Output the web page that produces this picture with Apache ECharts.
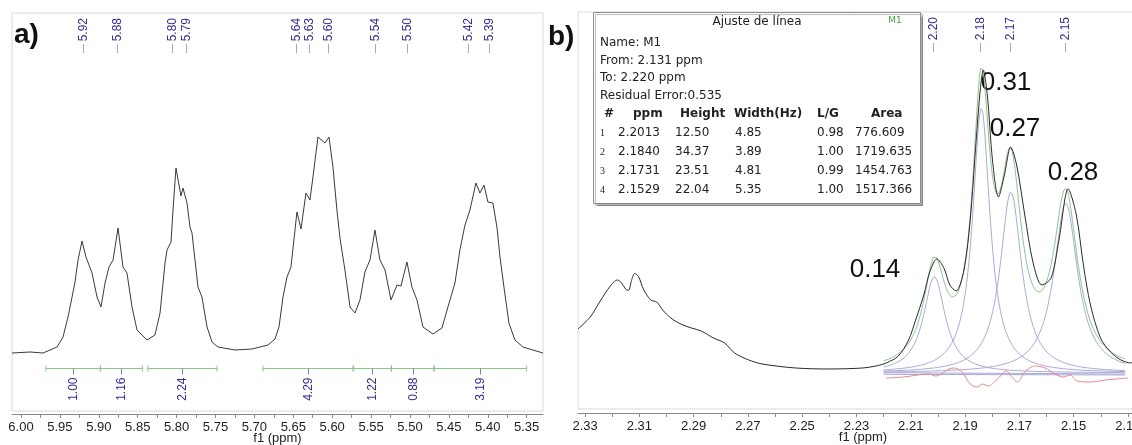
<!DOCTYPE html>
<html>
<head>
<meta charset="utf-8">
<script src="https://cdn.jsdelivr.net/npm/echarts@6/dist/echarts.min.js"></script>
<style>
  html, body { margin: 0; padding: 0; background: #fff; }
  #main { width: 1132px; height: 445px; }
</style>
</head>
<body>
<div id="main"></div>
<script>
// ---- panel a) : 1H spectrum, 5.33 - 6.01 ppm ----
var aPpm = [6.0116, 5.9884, 5.9717, 5.9537, 5.9460, 5.9396, 5.9344, 5.9306, 5.9267, 5.9216,
  5.9165, 5.9087, 5.9023, 5.8972, 5.8920, 5.8869, 5.8817, 5.8753, 5.8689, 5.8638,
  5.8573, 5.8509, 5.8381, 5.8278, 5.8213, 5.8149, 5.8123, 5.8072, 5.8046, 5.8008,
  5.7944, 5.7918, 5.7866, 5.7828, 5.7802, 5.7725, 5.7674, 5.7609, 5.7545, 5.7468,
  5.7249, 5.7031, 5.6825, 5.6735, 5.6684, 5.6632, 5.6581, 5.6530, 5.6453, 5.6401,
  5.6337, 5.6286, 5.6247, 5.6183, 5.6093, 5.6041, 5.5990, 5.5939, 5.5900, 5.5836,
  5.5771, 5.5707, 5.5643, 5.5579, 5.5514, 5.5450, 5.5386, 5.5321, 5.5244, 5.5167,
  5.5116, 5.5039, 5.4975, 5.4910, 5.4833, 5.4705, 5.4589, 5.4512, 5.4422, 5.4358,
  5.4293, 5.4229, 5.4152, 5.4101, 5.4049, 5.3998, 5.3934, 5.3882, 5.3843, 5.3792,
  5.3728, 5.3651, 5.3548, 5.3291];
var aInt = [-1, 0, -1, 5, 15, 35, 55, 70, 92, 111,
  95, 79, 55, 45, 69, 85, 92, 124, 85, 79,
  45, 22, 12, 17, 39, 89, 102, 110, 142, 184,
  156, 164, 149, 125, 119, 65, 55, 25, 10, 5,
  2, 3, 7, 13, 25, 55, 75, 85, 140, 123,
  159, 152, 175, 215, 209, 215, 185, 142, 114, 82,
  45, 39, 52, 80, 92, 122, 92, 82, 52, 67,
  66, 90, 65, 52, 25, 18, 24, 45, 69, 102,
  127, 142, 169, 159, 167, 150, 149, 125, 95, 65,
  29, 12, 5, -1];

var aPeakPpm = [5.920, 5.877, 5.806, 5.788, 5.647, 5.630, 5.605, 5.545, 5.504, 5.425, 5.398];
var aPeakLabels = ['5.92', '5.88', '5.80', '5.79', '5.64', '5.63', '5.60', '5.54', '5.50', '5.42', '5.39'];

var aIntFrom = [5.968, 5.898, 5.837, 5.689, 5.573, 5.524, 5.469];
var aIntTo = [5.898, 5.844, 5.748, 5.573, 5.524, 5.469, 5.350];
var aIntLabels = ['1.00', '1.16', '2.24', '4.29', '1.22', '0.88', '3.19'];

var aTickLabels = [6.00, 5.95, 5.90, 5.85, 5.80, 5.75, 5.70, 5.65, 5.60, 5.55, 5.50, 5.45, 5.40, 5.35];
var aTicks = [6.00, 5.975, 5.95, 5.925, 5.90, 5.875, 5.85, 5.825, 5.80, 5.775, 5.75, 5.725, 5.70,
  5.675, 5.65, 5.625, 5.60, 5.575, 5.55, 5.525, 5.50, 5.475, 5.45, 5.425, 5.40, 5.375, 5.35];

// ---- panel b) : 2.13 - 2.33 ppm with line fitting ----
var bPpm = [2.3326, 2.3281, 2.3244, 2.3207, 2.3181, 2.3166, 2.3151, 2.3140, 2.3129, 2.3117,
  2.3103, 2.3084, 2.3058, 2.3036, 2.3014, 2.2984, 2.2947, 2.2909, 2.2872, 2.2827, 2.2786,
  2.2749, 2.2697, 2.2648, 2.2525, 2.2399, 2.2276, 2.2228, 2.2190, 2.2146, 2.2108,
  2.2082, 2.2052, 2.2030, 2.2004, 2.1978, 2.1956, 2.1933, 2.1904, 2.1881, 2.1859,
  2.1844, 2.1833, 2.1818, 2.1799, 2.1777, 2.1755, 2.1732, 2.1710, 2.1680, 2.1650,
  2.1617, 2.1583, 2.1554, 2.1520, 2.1490, 2.1464, 2.1438, 2.1401, 2.1364, 2.1326,
  2.1289, 2.1278, 2.1263];
var bInt = [5.71, 7.26, 9.34, 11.28, 12.06, 11.70, 10.90, 10.70, 12.00, 12.90,
  12.50, 10.80, 9.47, 9.21, 8.17, 7.13, 6.35, 5.84, 5.45, 4.54, 3.89,
  2.59, 1.69, 1.17, 0.65, 0.52, 0.65, 0.91, 1.30, 2.20, 4.28,
  6.87, 10.12, 13.10, 14.79, 13.62, 11.41, 10.64, 13.36, 19.84, 30.22,
  36.71, 39.30, 36.06, 27.63, 22.83, 25.68, 29.31, 26.98, 20.49, 14.40,
  11.41, 12.32, 17.25, 23.87, 20.49, 14.01, 8.82, 4.54, 2.72, 1.69,
  1.30, 1.56, 1.17];

// fit table (Ajuste de línea, M1)
var fitNo = [1, 2, 3, 4];
var fitPpm = [2.2013, 2.1840, 2.1731, 2.1529];
var fitHeight = [12.50, 34.37, 23.51, 22.04];
var fitWidthHz = [4.85, 3.89, 4.81, 5.35];
var fitLG = [0.98, 1.00, 0.99, 1.00];
var fitArea = [776.609, 1719.635, 1454.763, 1517.366];
var fitFrom = 2.131, fitTo = 2.220, fitResidual = 0.535;
var specMHz = 500;

var resPpm = [2.2190, 2.2127, 2.2034, 2.2008, 2.1959, 2.1940, 2.1911, 2.1881, 2.1855, 2.1836,
  2.1814, 2.1784, 2.1747, 2.1728, 2.1706, 2.1680, 2.1643, 2.1606, 2.1568, 2.1539,
  2.1513, 2.1487, 2.1438, 2.1382, 2.1300];
var resInt = [-0.65, -0.52, -0.13, -0.39, 0.52, 0.65, 0.13, -1.43, -1.82, -1.43,
  -1.69, -0.91, 0.26, -0.52, -1.17, 0.13, 0.91, 0.65, -0.13, -0.52,
  -0.26, -1.04, -1.17, -0.91, -0.65];
var baseA = [0.04, -0.13];
var baseB = [-0.17, -0.26];

var bPeakPpm = [2.2019, 2.1845, 2.1733, 2.1530];
var bPeakLabels = ['2.20', '2.18', '2.17', '2.15'];
var bRelInt = ['0.14', '0.31', '0.27', '0.28'];

var bTickLabels = [2.33, 2.31, 2.29, 2.27, 2.25, 2.23, 2.21, 2.19, 2.17, 2.15, 2.13];
var bTicks = [2.33, 2.32, 2.31, 2.30, 2.29, 2.28, 2.27, 2.26, 2.25, 2.24, 2.23, 2.22, 2.21,
  2.20, 2.19, 2.18, 2.17, 2.16, 2.15, 2.14, 2.13];

var BLUE_TXT = '#2e3192';
var TICK_CLR = '#a3a6cf';
var AX_FONT = '"Liberation Sans", sans-serif';

function lorentz (k, x) {
  var hw = fitWidthHz[k] / specMHz / 2;
  var d = (x - fitPpm[k]) / hw;
  return fitHeight[k] / (1 + d * d);
}

// model curves on the fit window
var fitX = [];
for (var v = fitTo; v >= fitFrom - 1e-9; v -= 0.0002) fitX.push(+v.toFixed(4));
var compSeries = fitPpm.map(function (p, k) {
  return {
    type: 'line', xAxisIndex: 1, yAxisIndex: 1, showSymbol: false, silent: true,
    lineStyle: { color: '#a9a9d8', width: 1 },
    data: fitX.map(function (x) { return [x, lorentz(k, x)] })
  }
});
var sumData = fitX.map(function (x) {
  var s = 0
  for (var k = 0; k < fitPpm.length; k++) s += lorentz(k, x)
  return [x, s]
});

function axisX (grid, min, max, ticks, labels, offset) {
  return {
    gridIndex: grid,
    type: 'value',
    inverse: true,
    min: min,
    max: max,
    offset: offset,
    name: 'f1 (ppm)',
    nameLocation: 'middle',
    nameGap: 18,
    nameMoveOverlap: false,
    nameTextStyle: { color: '#222', fontSize: 13, fontFamily: AX_FONT, verticalAlign: 'top' },
    axisLine: { onZero: false, lineStyle: { color: '#8a8a8a' } },
    axisTick: { customValues: ticks, length: 4, lineStyle: { color: '#8a8a8a' } },
    axisLabel: {
      customValues: labels,
      color: '#222',
      fontSize: 13,
      fontFamily: AX_FONT,
      margin: 7,
      formatter: function (val) { return val.toFixed(2) }
    },
    splitLine: { show: false }
  }
}

function peakLabels (idx, ppms, labels) {
  return {
    type: 'custom', xAxisIndex: idx, yAxisIndex: idx, silent: true, clip: false, z: 5,
    data: ppms.map(function (p) { return [p, 0] }),
    renderItem: function (params, api) {
      var x = Math.round(api.coord([api.value(0), 0])[0]) + 0.5;
      var top = params.coordSys.y;
      return {
        type: 'group',
        children: [
          {
            type: 'text', x: x, y: top + 5, rotation: Math.PI / 2,
            style: { text: labels[params.dataIndex], fill: BLUE_TXT, font: '12px ' + AX_FONT, align: 'right', verticalAlign: 'middle' }
          },
          { type: 'line', shape: { x1: x, y1: top + 31, x2: x, y2: top + 40 }, style: { stroke: TICK_CLR, lineWidth: 1 } }
        ]
      }
    }
  }
}

var INT_LEVEL = -16;
var integrals = {
  type: 'custom', xAxisIndex: 0, yAxisIndex: 0, silent: true, clip: false,
  data: aIntFrom.map(function (f, i) { return [f, aIntTo[i]] }),
  renderItem: function (params, api) {
    var p1 = api.coord([api.value(0), INT_LEVEL]);
    var p2 = api.coord([api.value(1), INT_LEVEL]);
    var y = Math.round(p1[1]) + 0.5;
    var mx = Math.round((p1[0] + p2[0]) / 2) + 0.5;
    var g = '#86c986';
    return {
      type: 'group',
      children: [
        { type: 'line', shape: { x1: p1[0], y1: y, x2: p2[0], y2: y }, style: { stroke: g, lineWidth: 1 } },
        { type: 'line', shape: { x1: p1[0], y1: y - 3, x2: p1[0], y2: y + 3 }, style: { stroke: g, lineWidth: 1 } },
        { type: 'line', shape: { x1: p2[0], y1: y - 3, x2: p2[0], y2: y + 3 }, style: { stroke: g, lineWidth: 1 } },
        { type: 'line', shape: { x1: mx, y1: y, x2: mx, y2: y + 6 }, style: { stroke: '#7c80c0', lineWidth: 1 } },
        {
          type: 'text', x: mx, y: y + 9, rotation: Math.PI / 2,
          style: { text: aIntLabels[params.dataIndex], fill: BLUE_TXT, font: '12px ' + AX_FONT, align: 'right', verticalAlign: 'middle' }
        }
      ]
    }
  }
};

// table drawn as graphic text
var TF = '"DejaVu Sans", sans-serif';
var tableEls = [
  { type: 'rect', shape: { x: 593.5, y: 12.5, width: 327, height: 191 },
    style: { fill: '#fff', stroke: '#8c8c8c', lineWidth: 1, shadowColor: 'rgba(0,0,0,0.3)', shadowOffsetX: 2, shadowOffsetY: 2, shadowBlur: 1 } },
  { type: 'text', x: 757, y: 22, style: { text: 'Ajuste de línea', font: '12px ' + TF, fill: '#222', align: 'center', verticalAlign: 'middle' } },
  { type: 'text', x: 600, y: 43, style: { text: 'Name: M1', font: '12px ' + TF, fill: '#222', verticalAlign: 'middle' } },
  { type: 'text', x: 600, y: 61, style: { text: 'From: ' + fitFrom.toFixed(3) + ' ppm', font: '12px ' + TF, fill: '#222', verticalAlign: 'middle' } },
  { type: 'text', x: 600, y: 78, style: { text: 'To: ' + fitTo.toFixed(3) + ' ppm', font: '12px ' + TF, fill: '#222', verticalAlign: 'middle' } },
  { type: 'text', x: 600, y: 96, style: { text: 'Residual Error:' + fitResidual.toFixed(3), font: '12px ' + TF, fill: '#222', verticalAlign: 'middle' } },
  { type: 'text', x: 604, y: 114, style: { text: '#', font: 'bold 12px ' + TF, fill: '#222', verticalAlign: 'middle' } },
  { type: 'text', x: 633, y: 114, style: { text: 'ppm', font: 'bold 12px ' + TF, fill: '#222', verticalAlign: 'middle' } },
  { type: 'text', x: 680, y: 114, style: { text: 'Height', font: 'bold 12px ' + TF, fill: '#222', verticalAlign: 'middle' } },
  { type: 'text', x: 734, y: 114, style: { text: 'Width(Hz)', font: 'bold 12px ' + TF, fill: '#222', verticalAlign: 'middle' } },
  { type: 'text', x: 817, y: 114, style: { text: 'L/G', font: 'bold 12px ' + TF, fill: '#222', verticalAlign: 'middle' } },
  { type: 'text', x: 871, y: 114, style: { text: 'Area', font: 'bold 12px ' + TF, fill: '#222', verticalAlign: 'middle' } },
  { type: 'text', x: 895, y: 21, style: { text: 'M1', font: '9px ' + TF, fill: '#4aa04a', align: 'center', verticalAlign: 'middle' } }
];
var rowY = [133, 152, 171, 190];
fitNo.forEach(function (n, i) {
  var y = rowY[i];
  var cells = [
    [600, String(n), '10px "Liberation Serif", serif'],
    [618, fitPpm[i].toFixed(4)],
    [675, fitHeight[i].toFixed(2)],
    [735, fitWidthHz[i].toFixed(2)],
    [817, fitLG[i].toFixed(2)],
    [855, fitArea[i].toFixed(3)]
  ];
  cells.forEach(function (c) {
    tableEls.push({ type: 'text', x: c[0], y: y, style: { text: c[1], font: c[2] || ('12px ' + TF), fill: '#222', verticalAlign: 'middle' } });
  });
});

var BIG = '26px "Liberation Sans", sans-serif';
var relPos = [[875, 270], [1006, 83], [1015, 129], [1073, 173]];
var bigLabels = bRelInt.map(function (t, i) {
  return { type: 'text', x: relPos[i][0], y: relPos[i][1], style: { text: t, font: BIG, fill: '#111', align: 'center', verticalAlign: 'middle' } }
});

var option = {
  backgroundColor: '#fff',
  animation: false,
  grid: [
    { left: 12, top: 13, width: 531, height: 398, outerBoundsMode: 'none', show: true, borderColor: '#d9d9d9', borderWidth: 1, backgroundColor: '#fff' },
    { left: 578, top: 12, width: 570, height: 397, outerBoundsMode: 'none', show: true, borderColor: '#d9d9d9', borderWidth: 1, backgroundColor: '#fff' }
  ],
  xAxis: [
    axisX(0, 5.329, 6.0116, aTicks, aTickLabels, 3),
    axisX(1, 2.1226, 2.3326, bTicks, bTickLabels, 4)
  ],
  yAxis: [
    { gridIndex: 0, type: 'value', min: -59, max: 339, show: false },
    { gridIndex: 1, type: 'value', min: -4.67, max: 46.82, show: false }
  ],
  graphic: [
    { type: 'text', x: 14, y: 35, style: { text: 'a)', font: 'bold 28px "Liberation Sans", sans-serif', fill: '#111', verticalAlign: 'middle' } },
    { type: 'text', x: 548, y: 37, style: { text: 'b)', font: 'bold 28px "Liberation Sans", sans-serif', fill: '#111', verticalAlign: 'middle' } },
    { type: 'group', z: 100, children: tableEls }
  ].concat(bigLabels),
  series: [
    {
      type: 'line', xAxisIndex: 0, yAxisIndex: 0, showSymbol: false, silent: true,
      lineStyle: { color: '#3a3a3a', width: 1 },
      data: aPpm.map(function (p, i) { return [p, aInt[i]] })
    },
    peakLabels(0, aPeakPpm, aPeakLabels),
    integrals
  ].concat(compSeries).concat([
    {
      type: 'line', xAxisIndex: 1, yAxisIndex: 1, showSymbol: false, silent: true,
      lineStyle: { color: '#a9a9d8', width: 1 },
      data: [[fitTo, baseA[0]], [fitFrom, baseA[1]]]
    },
    {
      type: 'line', xAxisIndex: 1, yAxisIndex: 1, showSymbol: false, silent: true,
      lineStyle: { color: '#a9a9d8', width: 1 },
      data: [[fitTo, baseB[0]], [fitFrom, baseB[1]]]
    },
    {
      type: 'line', xAxisIndex: 1, yAxisIndex: 1, showSymbol: false, silent: true,
      lineStyle: { color: '#8cc48c', width: 1 },
      data: sumData
    },
    {
      type: 'line', xAxisIndex: 1, yAxisIndex: 1, showSymbol: false, silent: true, smooth: 0.3,
      lineStyle: { color: '#2a2a2a', width: 1 },
      data: bPpm.map(function (p, i) { return [p, bInt[i]] })
    },
    {
      type: 'line', xAxisIndex: 1, yAxisIndex: 1, showSymbol: false, silent: true, smooth: 0.3,
      lineStyle: { color: '#e58a8a', width: 1 },
      data: resPpm.map(function (p, i) { return [p, resInt[i]] })
    },
    peakLabels(1, bPeakPpm, bPeakLabels)
  ])
};

var chart = echarts.init(document.getElementById('main'));
chart.setOption(option);
window.addEventListener('resize', function () { chart.resize() });
</script>
</body>
</html>
